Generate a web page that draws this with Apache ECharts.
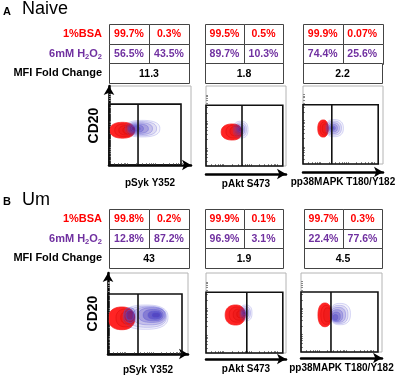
<!DOCTYPE html>
<html>
<head>
<meta charset="utf-8">
<script src="https://cdn.jsdelivr.net/npm/echarts@6/dist/echarts.min.js"></script>
<style>html,body{margin:0;padding:0;background:#fff}#chart{width:397px;height:376px}</style>
</head>
<body>
<div id="chart"></div>
<script>
var groupLetters = ['A', 'B'];
var groupNames = ['Naive', 'Um'];
var rowLabels = ['1%BSA', '6mM H2O2', 'MFI Fold Change'];
var markers = ['pSyk Y352', 'pAkt S473', 'pp38MAPK T180/Y182'];
// [negative %, positive %] per group, per marker
var bsaPct = [[[99.7, 0.3], [99.5, 0.5], [99.9, 0.07]], [[99.8, 0.2], [99.9, 0.1], [99.7, 0.3]]];
var h2o2Pct = [[[56.5, 43.5], [89.7, 10.3], [74.4, 25.6]], [[12.8, 87.2], [96.9, 3.1], [22.4, 77.6]]];
var mfiFold = [[11.3, 1.8, 2.2], [43, 1.9, 4.5]];
// gates, in plot units (0-100)
var gateX = [[35.4, 45, 36], [37.5, 51, 37]];
var gateRight = [[87.8, 96, 94], [92.5, 96, 95]];
var gateTop = [[77, 76, 76], [74, 76, 76]];
var tickVals = [6, 11, 15, 18, 20, 22, 33, 40, 45, 49, 52, 54, 56, 66, 73, 78, 82, 85, 87, 89];
// contours [cx, cy, rxLeft, rxRight, ry], outer to inner; panels A1 A2 A3 B1 B2 B3
var redContours = [
  [[16.5, 44, 15.5, 15, 10], [19, 44, 12, 12, 8], [21, 44, 9, 10, 6], [23, 44, 6, 8, 4.5]],
  [[33, 42.5, 14, 12, 10], [35, 43, 10, 10, 8], [37, 43.5, 7, 8, 6]],
  [[25.5, 45.5, 7, 6, 11], [26.5, 45.5, 5, 5, 8.5], [27.5, 45.5, 3.5, 4, 6]],
  [[17.5, 44, 17, 16, 14], [22, 44.5, 12, 11, 11], [25, 45, 9, 8, 8], [27, 45.5, 6, 6, 5.5]],
  [[37, 47.5, 13, 12, 12.5], [39, 48, 10, 9.5, 9.5], [41, 48, 7, 7, 7], [43, 48.5, 4.5, 4.5, 4.5]],
  [[29.5, 47, 8.5, 8.5, 15], [31, 47, 6.5, 6.5, 12], [32.5, 47, 4.5, 5, 9]]
];
var blueContours = [
  [[40, 46, 20, 22, 10.5], [39, 46, 17, 19, 9], [37, 46, 14, 16, 7.5], [35, 46, 11, 13, 6], [33, 46, 8, 9, 4.5], [32, 46, 5, 6, 3]],
  [[44, 45.5, 10, 8.5, 10.5], [43.5, 45.5, 8, 7, 8.5], [43, 45.5, 6, 5.5, 6.5], [42.5, 45.5, 4, 4, 4.5], [42.5, 45.5, 2.5, 2.5, 2.5]],
  [[38.5, 46, 10, 12, 11], [38, 46, 8.5, 10, 9], [37.5, 46, 7, 8, 7], [37, 46, 5, 6, 5], [36.5, 46, 3.5, 4, 3], [36.5, 46, 2, 2.5, 1.5]],
  [[47, 45.5, 28, 28, 15], [49, 46, 25, 24, 13], [52, 47, 21, 20, 11], [55, 48, 17, 16, 9], [28, 48, 8, 6, 9], [57, 48, 13, 12, 7], [28, 48, 5.5, 4, 6], [59, 48, 9, 8, 5], [60, 48, 5, 5, 3]],
  [[49.5, 50, 7, 8, 10], [49, 50, 5.5, 6.5, 8], [48.5, 50, 4, 5, 6], [48, 50, 3, 3.5, 4], [48, 50, 1.8, 2, 2]],
  [[48, 48, 12, 13, 13.5], [47, 47.5, 10.5, 11, 11.5], [46, 47, 9, 9, 9.5], [44.5, 46, 7, 7, 7.5], [43.5, 45, 5, 5, 5.5], [42.5, 44, 3, 3, 3.5]]
];

var FONT = '"Liberation Sans", Arial, sans-serif';
var RED = '#ff0000', PURPLE = '#7030a0';

// layout (pixels)
var tableLeft = [[109, 205, 303], [109, 205, 304]];
var tableWidth = [[80, 78, 79], [80, 78, 78]];
var tableTop = [24, 209];
var plotLeft = [[109, 206, 303], [108, 206, 301]];
var plotWidth = [[82, 80, 80], [80, 80, 81]];
var plotTop = [86, 273];
var plotHeight = [[79, 80, 78], [81, 80, 79]];
var arrowOffset = [8, 6];

var chart = echarts.init(document.getElementById('chart'));

function blobPoints(api, n) {
  var c = api.coord([api.value(0), api.value(1)]);
  var sL = api.size([api.value(2), api.value(4)]);
  var sR = api.size([api.value(3), api.value(4)]);
  var pts = [];
  for (var i = 0; i < 60; i++) {
    var t = i / 60 * Math.PI * 2, ct = Math.cos(t), st = Math.sin(t);
    var ex = Math.sign(ct) * Math.pow(Math.abs(ct), 2 / n);
    var ey = Math.sign(st) * Math.pow(Math.abs(st), 2 / n);
    pts.push([c[0] + ex * (ct < 0 ? sL[0] : sR[0]), c[1] - ey * sL[1]]);
  }
  return pts;
}

var grids = [], xAxes = [], yAxes = [], series = [], graphics = [];

for (var r = 0; r < 2; r++) {
  graphics.push({type: 'text', style: {text: groupLetters[r], x: 3, y: r ? 202 : 11.5, verticalAlign: 'middle',
    font: 'bold 11px ' + FONT, fill: '#000'}});
  graphics.push({type: 'text', style: {text: groupNames[r], x: 22, y: r ? 200 : 9, verticalAlign: 'middle',
    font: '18px ' + FONT, fill: '#000'}});

  for (var c = 0; c < 3; c++) {
    var p = r * 3 + c;
    // ---- table ----
    var g = grids.length;
    grids.push({left: tableLeft[r][c], top: tableTop[r], width: tableWidth[r][c], height: 59, outerBoundsMode: 'none'});
    var txi = xAxes.length, tyi = yAxes.length;
    xAxes.push({gridIndex: g, type: 'value', min: 0, max: 2, show: false});
    yAxes.push({gridIndex: g, type: 'category', data: rowLabels, inverse: true, show: c === 0,
      axisLine: {show: false}, axisTick: {show: false}, splitLine: {show: false},
      axisLabel: {margin: 7, formatter: function (v, i) {
        if (i === 0) return '{r|' + v + '}';
        if (i === 1) return '{p|' + v.replace(/([A-Z])(\d)/g, '$1}{s|$2}{p|') + '}';
        return '{k|' + v + '}';
      }, rich: {
        r: {color: RED, fontFamily: FONT, fontWeight: 'bold', fontSize: 11, lineHeight: 14},
        p: {color: PURPLE, fontFamily: FONT, fontWeight: 'bold', fontSize: 11, lineHeight: 14},
        s: {color: PURPLE, fontFamily: FONT, fontWeight: 'bold', fontSize: 7.5, lineHeight: 8, verticalAlign: 'bottom'},
        k: {color: '#000', fontFamily: FONT, fontWeight: 'bold', fontSize: 11, lineHeight: 14}
      }}});
    var cells = [
      {v: [0, 0, 1], text: bsaPct[r][c][0] + '%', color: RED},
      {v: [1, 0, 1], text: bsaPct[r][c][1] + '%', color: RED},
      {v: [0, 1, 1], text: h2o2Pct[r][c][0] + '%', color: PURPLE},
      {v: [1, 1, 1], text: h2o2Pct[r][c][1] + '%', color: PURPLE},
      {v: [0, 2, 2], text: String(mfiFold[r][c]), color: '#000'}
    ];
    series.push({type: 'custom', xAxisIndex: txi, yAxisIndex: tyi, encode: {x: 0, y: 1},
      data: cells.map(function (d) { return d.v; }),
      renderItem: (function (cells) {
        return function (params, api) {
          var cell = cells[params.dataIndex];
          var p0 = api.coord([api.value(0), api.value(1)]);
          var p1 = api.coord([api.value(0) + api.value(2), api.value(1)]);
          var bh = api.size([0, 1])[1];
          return {type: 'group', children: [
            {type: 'rect', shape: {x: Math.round(p0[0]) + 0.5, y: Math.round(p0[1] - bh / 2) + 0.5, width: Math.round(p1[0] - p0[0]), height: Math.round(bh)},
              style: {fill: '#fff', stroke: '#444', lineWidth: 1}},
            {type: 'text', style: {text: cell.text, x: (p0[0] + p1[0]) / 2, y: p0[1] + 0.5, align: 'center', verticalAlign: 'middle',
              fill: cell.color, font: 'bold 10.5px ' + FONT}}
          ]};
        };
      })(cells)});

    // ---- plot ----
    var q = grids.length;
    grids.push({left: plotLeft[r][c], top: plotTop[r], width: plotWidth[r][c], height: plotHeight[r][c],
      show: true, borderColor: '#b4b4b4', borderWidth: 1, outerBoundsMode: 'none'});
    var xi = xAxes.length, yi = yAxes.length;
    xAxes.push({gridIndex: q, type: 'value', min: 0, max: 100, position: 'bottom',
      axisLine: {show: false}, splitLine: {show: false}, axisLabel: {show: false},
      axisTick: {show: true, inside: true, length: 2, customValues: tickVals, lineStyle: {color: '#888', width: 1}}});
    xAxes.push({gridIndex: q, type: 'value', min: 0, max: 100, position: 'bottom', offset: arrowOffset[r],
      axisLine: {show: true, symbol: ['none', 'arrow'], symbolSize: [8, 9], lineStyle: {color: '#000', width: 2.5}},
      axisTick: {show: false}, axisLabel: {show: false}, splitLine: {show: false},
      name: markers[c], nameLocation: 'middle', nameGap: 5,
      nameTextStyle: {fontFamily: FONT, fontWeight: 'bold', fontSize: 10, color: '#000', verticalAlign: 'top'}});
    yAxes.push({gridIndex: q, type: 'value', min: 0, max: 100, position: 'left',
      axisLine: {show: false}, splitLine: {show: false}, axisLabel: {show: false},
      axisTick: {show: true, inside: true, length: 2, customValues: tickVals, lineStyle: {color: '#888', width: 1}}});
    if (c === 0) {
      yAxes.push({gridIndex: q, type: 'value', min: 0, max: 100, position: 'left', offset: 7,
        axisLine: {show: true, symbol: ['none', 'arrow'], symbolSize: [8, 9], lineStyle: {color: '#000', width: 2.5}},
        axisTick: {show: false}, axisLabel: {show: false}, splitLine: {show: false},
        name: 'CD20', nameLocation: 'middle', nameGap: 1, nameRotate: 90,
        nameTextStyle: {fontFamily: FONT, fontWeight: 'bold', fontSize: 14, color: '#000'}});
    }

    series.push({type: 'custom', xAxisIndex: xi, yAxisIndex: yi, clip: true, encode: {x: 0, y: 1},
      data: redContours[p],
      renderItem: function (params, api) {
        var outer = params.dataIndex === 0;
        return {type: 'polygon', shape: {points: blobPoints(api, 2.3)},
          style: outer ? {fill: '#ff2424', stroke: '#f52020', lineWidth: 0.8}
                       : {fill: 'rgba(190,0,0,0.10)', stroke: 'rgba(205,0,0,0.55)', lineWidth: 0.6}};
      }});
    series.push({type: 'custom', xAxisIndex: xi, yAxisIndex: yi, clip: true, encode: {x: 0, y: 1},
      data: blueContours[p],
      renderItem: function (params, api) {
        var k = params.dataIndex;
        return {type: 'polygon', shape: {points: blobPoints(api, 2.5)},
          style: {fill: 'rgba(60,45,185,' + (0.06 + 0.05 * k) + ')', stroke: 'rgba(90,90,215,' + (0.4 + 0.08 * k) + ')', lineWidth: 0.6}};
      }});
    series.push({type: 'custom', xAxisIndex: xi, yAxisIndex: yi, encode: {x: 0, y: 1},
      data: [[gateX[r][c], gateRight[r][c], gateTop[r][c]]],
      renderItem: function (params, api) {
        var o = api.coord([0, 0]);
        var tr = api.coord([api.value(1), api.value(2)]);
        var gx = api.coord([api.value(0), 0])[0];
        var st = {stroke: '#111', lineWidth: 1.6, fill: null};
        return {type: 'group', children: [
          {type: 'rect', shape: {x: o[0], y: tr[1], width: tr[0] - o[0], height: o[1] - tr[1]}, style: st},
          {type: 'line', shape: {x1: gx, y1: o[1], x2: gx, y2: tr[1]}, style: st}
        ]};
      }});
  }
}

chart.setOption({
  animation: false,
  grid: grids,
  xAxis: xAxes,
  yAxis: yAxes,
  series: series,
  graphic: graphics
});
</script>
</body>
</html>
